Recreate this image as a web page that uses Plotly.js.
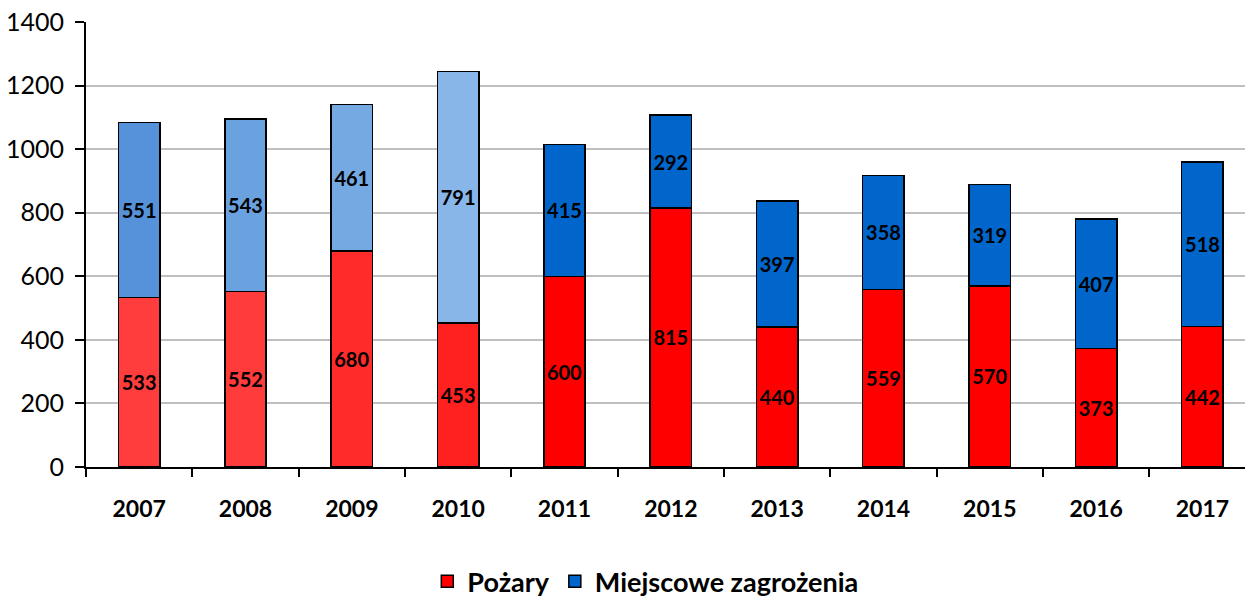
<!DOCTYPE html>
<html><head><meta charset="utf-8">
<script src="https://cdn.plot.ly/plotly-3.0.1.min.js"></script>
<style>html,body{margin:0;padding:0;background:#fff;}#chart{width:1245px;height:598px;}</style>
</head><body><div id="chart"></div>
<script>
const years = ['2007','2008','2009','2010','2011','2012','2013','2014','2015','2016','2017'];
const pozary = [533, 552, 680, 453, 600, 815, 440, 559, 570, 373, 442];
const miejscowe = [551, 543, 461, 791, 415, 292, 397, 358, 319, 407, 518];
const seriesNames = ['Pożary', 'Miejscowe zagrożenia'];
const redColors = ['#ff3d3d','#ff3b3b','#ff2a2a','#ff2020','#ff0000','#ff0000','#ff0000','#ff0000','#ff0000','#ff0000','#ff0000'];
const blueColors = ['#5592da','#6aa2e0','#74a9e2','#88b6e8','#0066cc','#0066cc','#0066cc','#0066cc','#0066cc','#0066cc','#0066cc'];
const legendColors = ['#ff0000', '#0066cc'];

const font = 'Lato, "Open Sans", sans-serif';
const common = {
  type: 'bar', x: years, width: 0.39, showlegend: false,
  textposition: 'inside', insidetextanchor: 'middle', constraintext: 'none',
  textfont: {family: font, size: 20, color: '#000', weight: 'bold'},
  hoverinfo: 'skip'
};
const data = [
  Object.assign({}, common, {name: seriesNames[0], y: pozary, text: pozary.map(String),
    marker: {color: redColors, line: {color: '#000', width: 1.5}}}),
  Object.assign({}, common, {name: seriesNames[1], y: miejscowe, text: miejscowe.map(String),
    marker: {color: blueColors, line: {color: '#000', width: 1.5}}}),
  {type: 'bar', x: [years[0]], y: [null], name: seriesNames[0], showlegend: true, hoverinfo: 'skip',
    marker: {color: legendColors[0], line: {color: '#000', width: 1.5}}},
  {type: 'bar', x: [years[0]], y: [null], name: seriesNames[1], showlegend: true, hoverinfo: 'skip',
    marker: {color: legendColors[1], line: {color: '#000', width: 1.5}}}
];
const layout = {
  width: 1245, height: 598,
  margin: {l: 86, r: 0, t: 22, b: 131, autoexpand: false},
  paper_bgcolor: '#fff', plot_bgcolor: '#fff',
  barmode: 'stack', showlegend: true,
  font: {family: font, color: '#000'},
  xaxis: {
    type: 'category', range: [-0.5, 10.4],
    showline: true, linecolor: '#000', linewidth: 2,
    ticks: 'outside', tickson: 'boundaries', ticklen: 8, tickwidth: 2, tickcolor: '#000',
    tickfont: {family: font, size: 23, color: '#000', weight: 'bold'},
    ticklabelstandoff: 20, showgrid: false, fixedrange: true
  },
  yaxis: {
    range: [0, 1400], dtick: 200, tick0: 0,
    showline: true, linecolor: '#000', linewidth: 2,
    ticks: 'outside', ticklen: 9, tickwidth: 2, tickcolor: '#000',
    tickfont: {family: font, size: 25, color: '#000'},
    ticklabelstandoff: 6,
    showgrid: true, gridcolor: '#c0c0c0', gridwidth: 2,
    zeroline: false, fixedrange: true
  },
  legend: {
    orientation: 'h', xref: 'paper', yref: 'paper', x: 0.483, y: -0.258,
    xanchor: 'center', yanchor: 'middle', traceorder: 'normal',
    font: {family: font, size: 27, color: '#000', weight: 'bold'},
    itemwidth: 30
  }
};
Plotly.newPlot('chart', data, layout, {staticPlot: true, displayModeBar: false});
</script></body></html>
